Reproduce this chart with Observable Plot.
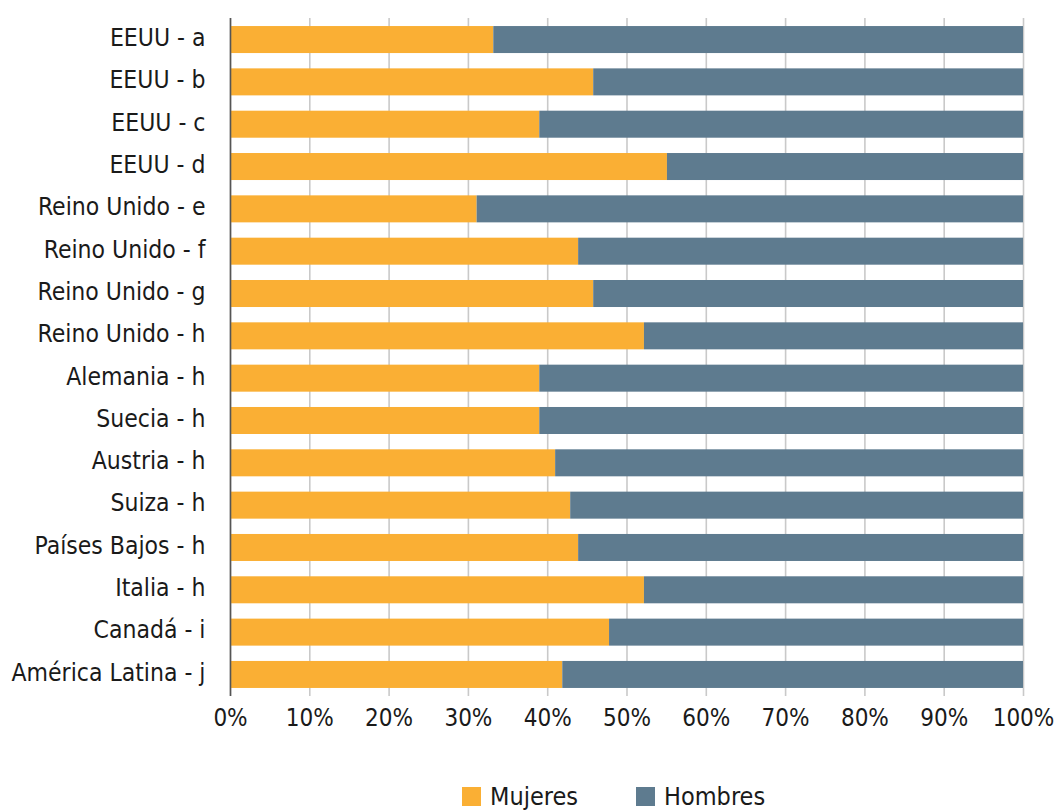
<!DOCTYPE html>
<html>
<head>
<meta charset="utf-8">
<script src="https://cdn.jsdelivr.net/npm/d3@7"></script>
<script src="https://cdn.jsdelivr.net/npm/@observablehq/plot@0.6"></script>
<style>
  html, body { margin: 0; padding: 0; background: #fff; }
  #wrap { position: relative; width: 1055px; height: 811px; overflow: hidden; font-family: "Liberation Sans Narrow", "DejaVu Sans Condensed", sans-serif; }
  #legend { position: absolute; left: 462px; top: 782px; display: flex; align-items: center; font-size: 25px; color: #1a1a1a; white-space: nowrap; }
  .sw { width: 19px; height: 19px; display: inline-block; margin-right: 9px; }
  .item { display: flex; align-items: center; margin-right: 58px; }
</style>
</head>
<body>
<div id="wrap">
  <div id="chart"></div>
  <div id="legend"></div>
</div>
<script>
const categories = [
  "EEUU - a", "EEUU - b", "EEUU - c", "EEUU - d",
  "Reino Unido - e", "Reino Unido - f", "Reino Unido - g", "Reino Unido - h",
  "Alemania - h", "Suecia - h", "Austria - h", "Suiza - h",
  "Países Bajos - h", "Italia - h", "Canadá - i", "América Latina - j"
];
const mujeres = [33.2, 45.8, 39.0, 55.1, 31.1, 43.9, 45.8, 52.2, 39.0, 39.0, 41.0, 42.9, 43.9, 52.2, 47.8, 41.9];
const hombres = mujeres.map(v => 100 - v);
const seriesNames = ["Mujeres", "Hombres"];
const seriesColors = ["#FAAF34", "#5E7B8F"];
const xTicks = [0, 10, 20, 30, 40, 50, 60, 70, 80, 90, 100];

const data = [];
categories.forEach((c, i) => {
  data.push({cat: c, serie: "Mujeres", value: mujeres[i]});
  data.push({cat: c, serie: "Hombres", value: hombres[i]});
});

const font = "'Liberation Sans Narrow', 'DejaVu Sans Condensed', sans-serif";

const chart = Plot.plot({
  width: 1055,
  height: 772,
  marginLeft: 230,
  marginRight: 32,
  marginTop: 18,
  marginBottom: 76,
  style: {fontFamily: font, color: "#1a1a1a", background: "#fff"},
  x: {domain: [0, 100], ticks: xTicks, label: null},
  y: {domain: categories, paddingInner: 0.362, paddingOuter: 0.19, round: false, label: null},
  color: {domain: seriesNames, range: seriesColors},
  marks: [
    Plot.gridX(xTicks, {stroke: "#c9c9c9", strokeOpacity: 1, strokeWidth: 1.6}),
    Plot.barX(data, Plot.stackX({y: "cat", x: "value", fill: "serie", order: seriesNames})),
    Plot.ruleX([0], {stroke: "#555", strokeWidth: 1.6}),
    Plot.axisX({ticks: xTicks, tickSize: 0, tickPadding: 12, tickFormat: d => d + "%", fontSize: 24, fill: "#1a1a1a", label: null}),
    Plot.axisY({tickSize: 0, tickPadding: 25, fontSize: 24.5, fill: "#1a1a1a", dy: -2, label: null})
  ]
});
document.getElementById("chart").appendChild(chart);

const legend = document.getElementById("legend");
seriesNames.forEach((name, i) => {
  const item = document.createElement("div");
  item.className = "item";
  const sw = document.createElement("span");
  sw.className = "sw";
  sw.style.background = seriesColors[i];
  const t = document.createElement("span");
  t.textContent = name;
  item.appendChild(sw);
  item.appendChild(t);
  legend.appendChild(item);
});
</script>
</body>
</html>
